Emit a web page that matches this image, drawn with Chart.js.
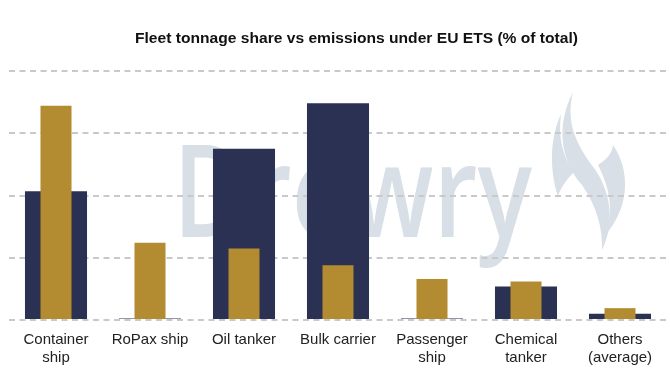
<!DOCTYPE html>
<html>
<head>
<meta charset="utf-8">
<script src="https://cdn.jsdelivr.net/npm/chart.js@4/dist/chart.umd.min.js"></script>
<style>
html,body{margin:0;padding:0;background:#fff;}
#wrap{width:670px;height:380px;position:relative;}
</style>
</head>
<body>
<div id="wrap"><canvas id="c" width="670" height="380"></canvas></div>
<script>
const categories = [["Container","ship"], "RoPax ship", "Oil tanker", "Bulk carrier", ["Passenger","ship"], ["Chemical","tanker"], ["Others","(average)"]];
const tonnageShare = [10.35, 0.12, 13.75, 17.4, 0.12, 2.7, 0.5];
const emissionsShare = [17.2, 6.2, 5.75, 4.4, 3.3, 3.1, 0.95];
const yTicks = [0, 5, 10, 15, 20];
const titleText = "Fleet tonnage share vs emissions under EU ETS (% of total)";
const watermarkText = "Drewry";

const FONT = '"Liberation Sans", Arial, sans-serif';

const bgPlugin = {
  id: 'bg',
  beforeDraw(chart) {
    const ctx = chart.ctx;
    ctx.save();
    ctx.fillStyle = '#fff';
    ctx.fillRect(0, 0, chart.width, chart.height);
    // watermark text
    ctx.font = '600 128px "Open Sans", "Liberation Sans", sans-serif';
    ctx.fillStyle = '#D8DFE6';
    ctx.textBaseline = 'alphabetic';
    const w = ctx.measureText(watermarkText).width;
    ctx.save();
    ctx.translate(173, 237);
    ctx.scale(359 / w, 1);
    ctx.fillText(watermarkText, 0, 0);
    ctx.restore();
    // watermark flame
    ctx.beginPath();
    ctx.moveTo(573, 92);
    ctx.bezierCurveTo(556, 125, 560, 160, 582, 185);
    ctx.bezierCurveTo(596, 205, 603, 228, 602, 250);
    ctx.bezierCurveTo(616, 222, 610, 190, 594, 168);
    ctx.bezierCurveTo(574, 142, 566, 120, 573, 92);
    ctx.closePath();
    ctx.fill();
    ctx.beginPath();
    ctx.moveTo(561, 114);
    ctx.bezierCurveTo(549, 140, 550, 172, 558, 196);
    ctx.bezierCurveTo(562, 185, 568, 178, 574, 172);
    ctx.bezierCurveTo(562, 156, 558, 136, 561, 114);
    ctx.closePath();
    ctx.fill();
    ctx.beginPath();
    ctx.moveTo(613, 145);
    ctx.bezierCurveTo(630, 170, 630, 205, 607, 233);
    ctx.bezierCurveTo(614, 205, 608, 185, 598, 165);
    ctx.bezierCurveTo(606, 160, 612, 154, 613, 145);
    ctx.closePath();
    ctx.fill();
    ctx.restore();
    // title
    ctx.save();
    ctx.font = 'bold 15.5px ' + FONT;
    ctx.fillStyle = '#111';
    ctx.textAlign = 'left';
    ctx.textBaseline = 'middle';
    const tw = ctx.measureText(titleText).width;
    ctx.translate(135, 39);
    ctx.scale(443 / tw, 1);
    ctx.fillText(titleText, 0, 0);
    ctx.restore();
  }
};

new Chart(document.getElementById('c'), {
  type: 'bar',
  data: {
    labels: categories,
    datasets: [
      {
        label: 'Emissions',
        data: emissionsShare,
        backgroundColor: '#B38B30',
        grouped: false,
        barPercentage: 0.33,
        categoryPercentage: 1,
        order: 0
      },
      {
        label: 'Fleet tonnage',
        data: tonnageShare,
        backgroundColor: '#2A3152',
        grouped: false,
        barPercentage: 0.66,
        categoryPercentage: 1,
        order: 1
      }
    ]
  },
  options: {
    responsive: false,
    animation: false,
    devicePixelRatio: 1,
    layout: { padding: { left: 9, right: 3, top: 71, bottom: 2 } },
    plugins: {
      legend: { display: false },
      title: { display: false },
      tooltip: { enabled: false }
    },
    scales: {
      x: {
        grid: { display: false, drawTicks: false },
        border: { display: false },
        ticks: {
          color: '#222',
          font: { family: FONT, size: 15, lineHeight: 1.2 },
          padding: 11,
          maxRotation: 0,
          autoSkip: false
        }
      },
      y: {
        min: 0,
        max: 20,
        afterBuildTicks(axis) { axis.ticks = yTicks.map(v => ({ value: v })); },
        ticks: { display: false },
        grid: { color: '#C9C9C9', lineWidth: 2, drawTicks: false, tickLength: 0 },
        border: { display: false, dash: [6, 4.5] }
      }
    }
  },
  plugins: [bgPlugin]
});
</script>
</body>
</html>
